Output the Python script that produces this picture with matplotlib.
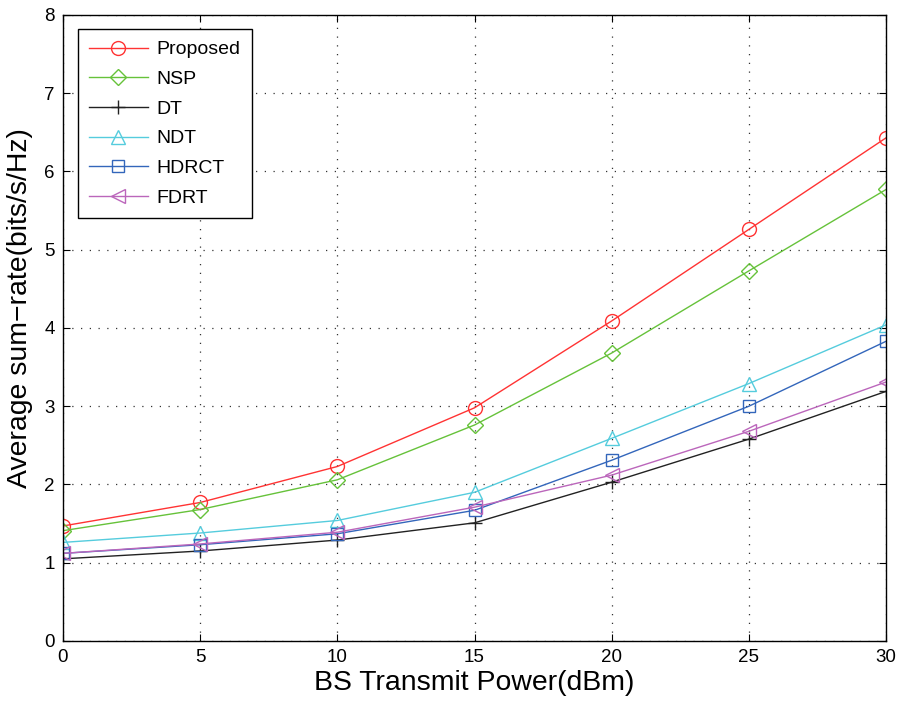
import matplotlib
matplotlib.use("Agg")
import matplotlib.pyplot as plt

plt.rcParams['font.family'] = ['Liberation Sans', 'DejaVu Sans']

x = [0, 5, 10, 15, 20, 25, 30]
proposed = [1.47, 1.77, 2.23, 2.98, 4.09, 5.26, 6.43]
nsp = [1.41, 1.68, 2.06, 2.76, 3.68, 4.73, 5.77]
dt = [1.05, 1.15, 1.29, 1.51, 2.03, 2.58, 3.19]
ndt = [1.26, 1.38, 1.54, 1.90, 2.59, 3.29, 4.04]
hdrct = [1.12, 1.23, 1.37, 1.67, 2.31, 3.00, 3.83]
fdrt = [1.12, 1.24, 1.39, 1.71, 2.12, 2.68, 3.31]

fig = plt.figure(figsize=(9.01, 7.04), dpi=100)
ax = fig.add_axes([0.0699, 0.0895, 0.9135, 0.8892])

series = [
    ("Proposed", proposed, "#FF3333", "o"),
    ("NSP", nsp, "#66C23A", "D"),
    ("DT", dt, "#222222", "+"),
    ("NDT", ndt, "#55CCDD", "^"),
    ("HDRCT", hdrct, "#3366BB", "s"),
    ("FDRT", fdrt, "#BB66BB", "<"),
]
for name, vals, col, m in series:
    ms = 10 if m in ("o", "^", "<", "+") else 8
    ax.plot(x, vals, color=col, marker=m, markersize=ms, markerfacecolor='none',
            markeredgecolor=col, linewidth=1.0, markeredgewidth=1.0, label=name)

ax.set_xlim(0, 30)
ax.set_ylim(0, 8)
ax.set_xticks([0, 5, 10, 15, 20, 25, 30])
ax.set_yticks(range(0, 9))
ax.grid(True, linestyle=(0, (1, 6)), color='#333333', linewidth=0.9)
ax.tick_params(direction='in', top=True, right=True, labelsize=13.5, length=5, pad=6)
ax.set_xlabel("BS Transmit Power(dBm)", fontsize=20.4, labelpad=3)
ax.set_ylabel("Average sum\u2212rate(bits/s/Hz)", fontsize=20.4)
ax.yaxis.set_label_coords(-0.036, 0.532)
for s in ax.spines.values():
    s.set_linewidth(1.0)

leg = ax.legend(loc='upper left', fontsize=14, fancybox=False, edgecolor='black',
                framealpha=1, borderpad=0.6, labelspacing=0.62, handlelength=3.0,
                handletextpad=0.45, bbox_to_anchor=(0.006, 0.993))
leg.get_frame().set_linewidth(1.0)

fig.savefig("out.png", dpi=100)
